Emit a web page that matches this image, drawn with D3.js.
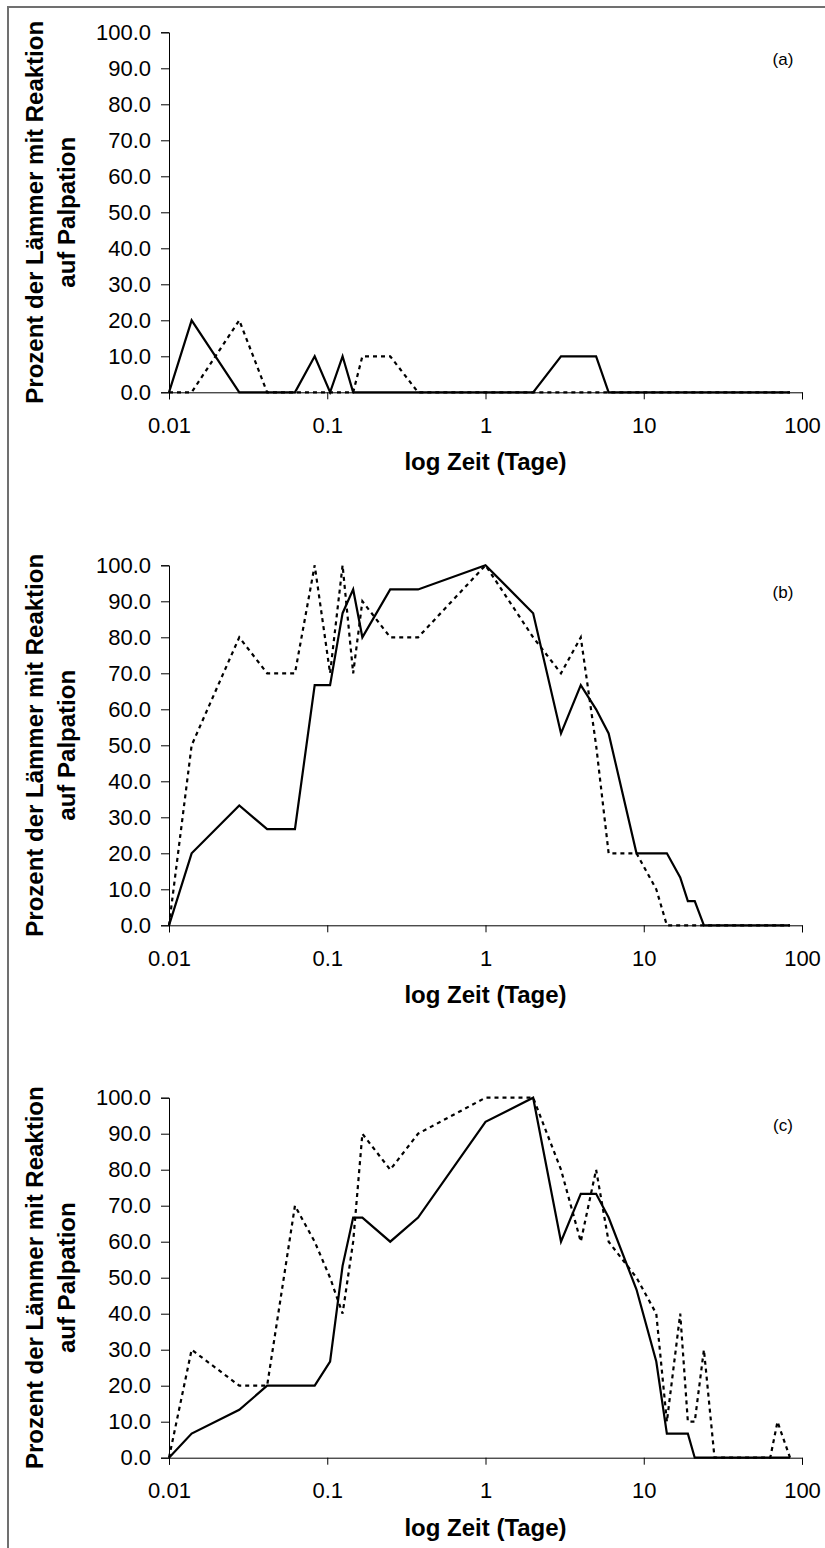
<!DOCTYPE html>
<html><head><meta charset="utf-8">
<script src="https://cdn.jsdelivr.net/npm/d3@7"></script>
<style>body{margin:0;background:#fff}svg{display:block}</style>
</head><body>
<script>
// time points (days)
const times = [0.01, 0.0139, 0.0278, 0.0417, 0.0625, 0.0833, 0.1042, 0.125, 0.1458, 0.1667, 0.25, 0.375, 1, 2, 3, 4, 5, 6, 9, 12, 14, 17, 19, 21, 24, 28, 35, 42, 49, 56, 63, 70, 84];
const panelLabels = ["(a)", "(b)", "(c)"];
// panel (a)
const aSolid  = [0, 20, 0, 0, 0, 10, 0, 10, 0, 0, 0, 0, 0, 0, 10, 10, 10, 0, 0, 0, 0, 0, 0, 0, 0, 0, 0, 0, 0, 0, 0, 0, 0];
const aDashed = [0, 0, 20, 0, 0, 0, 0, 0, 0, 10, 10, 0, 0, 0, 0, 0, 0, 0, 0, 0, 0, 0, 0, 0, 0, 0, 0, 0, 0, 0, 0, 0, 0];
// panel (b)
const bSolid  = [0, 20, 33.3, 26.7, 26.7, 66.7, 66.7, 86.7, 93.3, 80, 93.3, 93.3, 100, 86.7, 53.3, 66.7, 60, 53.3, 20, 20, 20, 13.3, 6.7, 6.7, 0, 0, 0, 0, 0, 0, 0, 0, 0];
const bDashed = [0, 50, 80, 70, 70, 100, 70, 100, 70, 90, 80, 80, 100, 80, 70, 80, 50, 20, 20, 10, 0, 0, 0, 0, 0, 0, 0, 0, 0, 0, 0, 0, 0];
// panel (c)
const cSolid  = [0, 6.7, 13.3, 20, 20, 20, 26.7, 53.3, 66.7, 66.7, 60, 66.7, 93.3, 100, 60, 73.3, 73.3, 66.7, 46.7, 26.7, 6.7, 6.7, 6.7, 0, 0, 0, 0, 0, 0, 0, 0, 0, 0];
const cDashed = [0, 30, 20, 20, 70, 60, 50, 40, 60, 90, 80, 90, 100, 100, 80, 60, 80, 60, 50, 40, 10, 40, 10, 10, 30, 0, 0, 0, 0, 0, 0, 10, 0];

const yTicks = [0, 10, 20, 30, 40, 50, 60, 70, 80, 90, 100];
const xTicks = [0.01, 0.1, 1, 10, 100];
const xTickLabels = ["0.01", "0.1", "1", "10", "100"];
const yTitle1 = "Prozent der Lämmer mit Reaktion";
const yTitle2 = "auf Palpation";
const xTitle = "log Zeit (Tage)";

const panels = [
  {label: panelLabels[0], solid: aSolid, dashed: aDashed},
  {label: panelLabels[1], solid: bSolid, dashed: bDashed},
  {label: panelLabels[2], solid: cSolid, dashed: cDashed}
];

const W = 825, H = 1548;
const svg = d3.select("body").append("svg").attr("width", W).attr("height", H)
  .style("font-family", "'Liberation Sans', Arial, sans-serif");

svg.append("rect").attr("x", 8).attr("y", 7).attr("width", 840).attr("height", 1560)
  .attr("fill", "none").attr("stroke", "#707070").attr("stroke-width", 2);

const x = d3.scaleLog().domain([0.01, 100]).range([169, 802]);
const panelTop = [32.3, 565.3, 1097.7];
const ph = 360;

panels.forEach((p, i) => {
  const top = panelTop[i];
  const y = d3.scaleLinear().domain([0, 100]).range([top + ph, top]);
  const g = svg.append("g");

  const yAxis = d3.axisLeft(y).tickValues(yTicks).tickFormat(d3.format(".1f")).tickSizeOuter(0).tickSize(8).tickPadding(10);
  const ya = g.append("g").attr("transform", `translate(${x(0.01)},0)`).call(yAxis);
  ya.selectAll("text").style("font-size", "22px").attr("fill", "#000");
  ya.selectAll("line, path").attr("stroke", "#000");

  const xAxis = d3.axisBottom(x).tickValues(xTicks).tickFormat((d, k) => xTickLabels[k]).tickSizeOuter(0).tickSize(7).tickPadding(18);
  const xa = g.append("g").attr("transform", `translate(0,${top + ph})`).call(xAxis);
  xa.selectAll("text").style("font-size", "22px").attr("fill", "#000");
  xa.selectAll("line, path").attr("stroke", "#000");

  const line = d3.line().x((d, k) => x(times[k])).y(d => y(d));
  g.append("path").datum(p.dashed).attr("d", line).attr("fill", "none")
    .attr("stroke", "#000").attr("stroke-width", 2.2).attr("stroke-dasharray", "4,4");
  g.append("path").datum(p.solid).attr("d", line).attr("fill", "none")
    .attr("stroke", "#000").attr("stroke-width", 2.2).attr("stroke-linejoin", "miter");

  g.append("text").attr("x", 783).attr("y", top + 33).attr("text-anchor", "middle")
    .style("font-size", "17px").text(p.label);

  const cy = top + ph / 2;
  g.append("text").attr("transform", `translate(43,${cy}) rotate(-90)`).attr("text-anchor", "middle")
    .style("font-size", "24px").style("font-weight", "bold").text(yTitle1);
  g.append("text").attr("transform", `translate(75,${cy}) rotate(-90)`).attr("text-anchor", "middle")
    .style("font-size", "24px").style("font-weight", "bold").text(yTitle2);

  g.append("text").attr("x", x(1)).attr("y", top + ph + 78).attr("text-anchor", "middle")
    .style("font-size", "24px").style("font-weight", "bold").text(xTitle);
});
</script>
</body></html>
